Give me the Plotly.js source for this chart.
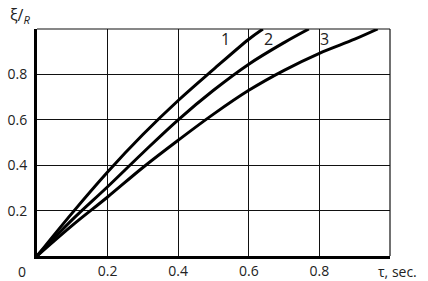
<!DOCTYPE html>
<html>
<head>
<meta charset="utf-8">
<script src="https://cdn.plot.ly/plotly-3.0.1.min.js"></script>
<style>html,body{margin:0;padding:0;background:#fff;}#chart{width:428px;height:281px;}</style>
</head>
<body>
<div id="chart"></div>
<script>
// Curve data (tau in sec, xi/R)
const tau1 = [0, 0.1, 0.2, 0.3, 0.4, 0.5, 0.6, 0.64];
const xi1  = [0, 0.19, 0.37, 0.535, 0.685, 0.822, 0.955, 1.0];
const tau2 = [0, 0.1, 0.2, 0.3, 0.4, 0.5, 0.6, 0.7, 0.77];
const xi2  = [0, 0.16, 0.305, 0.455, 0.6, 0.73, 0.845, 0.94, 1.0];
const tau3 = [0, 0.1, 0.2, 0.3, 0.4, 0.5, 0.6, 0.7, 0.8, 0.9, 0.965];
const xi3  = [0, 0.135, 0.26, 0.39, 0.51, 0.625, 0.73, 0.818, 0.893, 0.955, 1.0];
const curveLabels = ["1", "2", "3"];
const labelTau = [0.535, 0.655, 0.814];
const labelXi = [0.955, 0.955, 0.955];
const tickVals = [0.2, 0.4, 0.6, 0.8];
const tickText = ["0.2", "0.4", "0.6", "0.8"];

const lineStyle = {color: '#000', width: 3, shape: 'spline', smoothing: 1};
const traces = [
  {x: tau1, y: xi1, mode: 'lines', line: lineStyle, hoverinfo: 'skip'},
  {x: tau2, y: xi2, mode: 'lines', line: lineStyle, hoverinfo: 'skip'},
  {x: tau3, y: xi3, mode: 'lines', line: lineStyle, hoverinfo: 'skip'}
];

const font = {family: '"Open Sans", "Noto Sans", sans-serif', size: 14, color: '#222'};
const annotations = curveLabels.map((t, i) => ({
  x: labelTau[i], y: labelXi[i], xref: 'x', yref: 'y', text: t, showarrow: false,
  font: {family: font.family, size: 16, color: '#222'}, xanchor: 'center', yanchor: 'middle'
}));
annotations.push({xref: 'paper', yref: 'paper', x: -0.042, y: 0, xanchor: 'center', yanchor: 'top',
  yshift: -4, text: '0', showarrow: false, font: font});
annotations.push({xref: 'paper', yref: 'paper', x: -0.015, y: 1.0, xanchor: 'right', yanchor: 'bottom',
  text: 'ξ/<sub><i>R</i></sub>', showarrow: false, font: {family: font.family, size: 16, color: '#222'}});
annotations.push({xref: 'paper', yref: 'paper', x: 1.02, y: 0, xanchor: 'center', yanchor: 'top',
  yshift: -4, text: 'τ, sec.', showarrow: false, font: font});

const layout = {
  width: 428, height: 281,
  margin: {l: 37, r: 38, t: 29, b: 25, pad: 0},
  paper_bgcolor: '#fff', plot_bgcolor: '#fff',
  showlegend: false,
  font: font,
  xaxis: {range: [0, 1.0], tickvals: tickVals, ticktext: tickText, showgrid: true,
    gridcolor: '#111', gridwidth: 1.2, zeroline: false, showline: true, linecolor: '#000',
    linewidth: 3, ticks: '', fixedrange: true},
  yaxis: {range: [0, 1.0], tickvals: tickVals, ticktext: tickText, showgrid: true,
    gridcolor: '#111', gridwidth: 1.2, zeroline: false, showline: true, linecolor: '#000',
    linewidth: 3, ticks: '', ticklabelstandoff: 4, fixedrange: true},
  shapes: [
    {type: 'line', xref: 'paper', yref: 'paper', x0: 0, x1: 1, y0: 1, y1: 1, line: {color: '#111', width: 1.2}},
    {type: 'line', xref: 'paper', yref: 'paper', x0: 1, x1: 1, y0: 0, y1: 1, line: {color: '#111', width: 1.2}}
  ],
  annotations: annotations
};

Plotly.newPlot('chart', traces, layout, {displayModeBar: false, staticPlot: true});
</script>
</body>
</html>
